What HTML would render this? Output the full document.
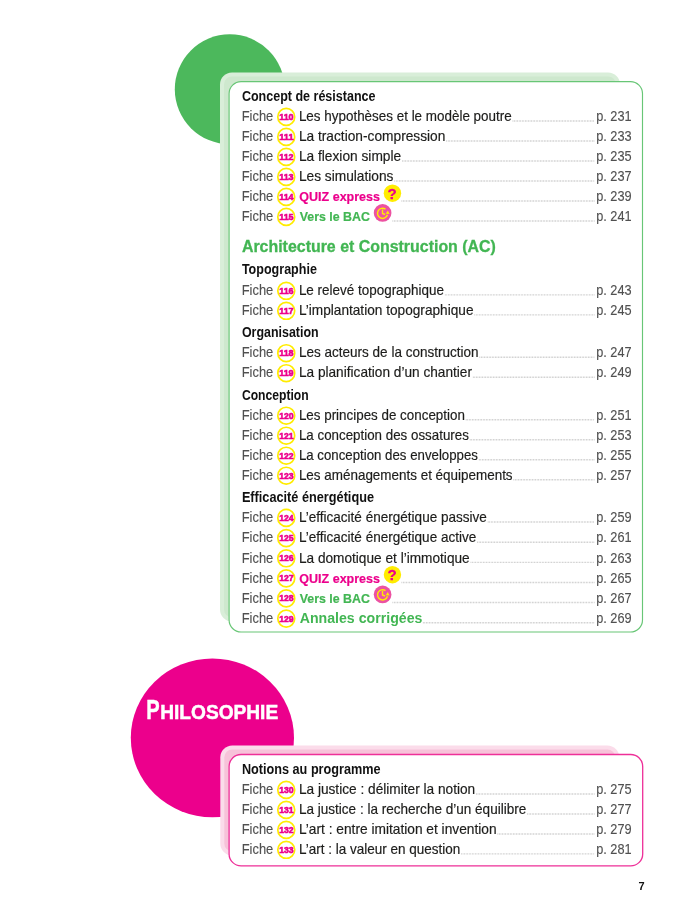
<!DOCTYPE html>
<html lang="fr"><head><meta charset="utf-8"><title>Sommaire</title>
<style>
html,body{margin:0;padding:0;background:#fff}
body{width:700px;height:919px;overflow:hidden}
svg{display:block;font-family:"Liberation Sans",sans-serif}
</style></head><body>
<svg width="700" height="919" viewBox="0 0 700 919">
<rect width="700" height="919" fill="#fff"/>
<circle cx="229.8" cy="89.3" r="55" fill="#4cb85c"/>
<rect x="220" y="72.4" width="400" height="549" rx="12" ry="12" fill="#d9eed9"/>
<rect x="224" y="76.4" width="392" height="541" rx="8" ry="8" fill="#cee8ce"/>
<rect x="229.1" y="81.6" width="413.4" height="550.4" rx="12" ry="12" fill="#fff" stroke="#68c676" stroke-width="1.15"/>
<ellipse cx="212.4" cy="737.85" rx="81.6" ry="79.35" fill="#ec008c"/>
<text y="719.3" fill="#fff" stroke="#fff" stroke-width="0.5" font-weight="bold"><tspan x="146.2" font-size="28.5" textLength="13.4" lengthAdjust="spacingAndGlyphs">P</tspan><tspan x="160.2" font-size="21" textLength="118" lengthAdjust="spacingAndGlyphs">HILOSOPHIE</tspan></text>
<rect x="220.3" y="745.4" width="399" height="110" rx="12" ry="12" fill="#fbdcea"/>
<rect x="224.3" y="749.4" width="391" height="102" rx="8" ry="8" fill="#f7c2d9"/>
<rect x="229.1" y="754.5" width="413.6" height="111.4" rx="12" ry="12" fill="#fff" stroke="#ee2f98" stroke-width="1.3"/>
<text x="241.9" y="101.1" font-size="14.3" fill="#111" font-weight="bold" textLength="133.6" lengthAdjust="spacingAndGlyphs">Concept de résistance</text>
<text x="241.7" y="121.1" font-size="14.3" fill="#505050" textLength="31.6" lengthAdjust="spacingAndGlyphs" stroke="#505050" stroke-width="0.12">Fiche</text>
<circle cx="286.25" cy="116.9" r="8.45" fill="#fff" stroke="#ffec00" stroke-width="1.7"/>
<text x="286.4" y="119.8" font-size="9.9" fill="#ec008c" font-weight="bold" text-anchor="middle" textLength="14.4" lengthAdjust="spacingAndGlyphs" stroke="#ec008c" stroke-width="0.6">110</text>
<text x="298.9" y="121.1" font-size="14.3" fill="#1d1d1b" textLength="212.8" lengthAdjust="spacingAndGlyphs" stroke="#1d1d1b" stroke-width="0.18">Les hypothèses et le modèle poutre</text>
<line x1="512.6" y1="121.0" x2="594.5" y2="121.0" stroke="#c4c4c4" stroke-width="1.4" stroke-dasharray="0.75 0.8"/>
<text x="596.2" y="121.1" font-size="14.3" fill="#505050" textLength="35.4" lengthAdjust="spacingAndGlyphs" stroke="#505050" stroke-width="0.12">p. 231</text>
<text x="241.7" y="141.1" font-size="14.3" fill="#505050" textLength="31.6" lengthAdjust="spacingAndGlyphs" stroke="#505050" stroke-width="0.12">Fiche</text>
<circle cx="286.25" cy="136.9" r="8.45" fill="#fff" stroke="#ffec00" stroke-width="1.7"/>
<text x="286.4" y="139.8" font-size="9.9" fill="#ec008c" font-weight="bold" text-anchor="middle" textLength="14.4" lengthAdjust="spacingAndGlyphs" stroke="#ec008c" stroke-width="0.6">111</text>
<text x="298.9" y="141.1" font-size="14.3" fill="#1d1d1b" textLength="146.5" lengthAdjust="spacingAndGlyphs" stroke="#1d1d1b" stroke-width="0.18">La traction-compression</text>
<line x1="446.3" y1="141.0" x2="594.5" y2="141.0" stroke="#c4c4c4" stroke-width="1.4" stroke-dasharray="0.75 0.8"/>
<text x="596.2" y="141.1" font-size="14.3" fill="#505050" textLength="35.4" lengthAdjust="spacingAndGlyphs" stroke="#505050" stroke-width="0.12">p. 233</text>
<text x="241.7" y="161.1" font-size="14.3" fill="#505050" textLength="31.6" lengthAdjust="spacingAndGlyphs" stroke="#505050" stroke-width="0.12">Fiche</text>
<circle cx="286.25" cy="156.9" r="8.45" fill="#fff" stroke="#ffec00" stroke-width="1.7"/>
<text x="286.4" y="159.8" font-size="9.9" fill="#ec008c" font-weight="bold" text-anchor="middle" textLength="14.4" lengthAdjust="spacingAndGlyphs" stroke="#ec008c" stroke-width="0.6">112</text>
<text x="298.9" y="161.1" font-size="14.3" fill="#1d1d1b" textLength="102.3" lengthAdjust="spacingAndGlyphs" stroke="#1d1d1b" stroke-width="0.18">La flexion simple</text>
<line x1="402.1" y1="161.0" x2="594.5" y2="161.0" stroke="#c4c4c4" stroke-width="1.4" stroke-dasharray="0.75 0.8"/>
<text x="596.2" y="161.1" font-size="14.3" fill="#505050" textLength="35.4" lengthAdjust="spacingAndGlyphs" stroke="#505050" stroke-width="0.12">p. 235</text>
<text x="241.7" y="181.1" font-size="14.3" fill="#505050" textLength="31.6" lengthAdjust="spacingAndGlyphs" stroke="#505050" stroke-width="0.12">Fiche</text>
<circle cx="286.25" cy="176.9" r="8.45" fill="#fff" stroke="#ffec00" stroke-width="1.7"/>
<text x="286.4" y="179.8" font-size="9.9" fill="#ec008c" font-weight="bold" text-anchor="middle" textLength="14.4" lengthAdjust="spacingAndGlyphs" stroke="#ec008c" stroke-width="0.6">113</text>
<text x="298.9" y="181.1" font-size="14.3" fill="#1d1d1b" textLength="94.6" lengthAdjust="spacingAndGlyphs" stroke="#1d1d1b" stroke-width="0.18">Les simulations</text>
<line x1="394.4" y1="181.0" x2="594.5" y2="181.0" stroke="#c4c4c4" stroke-width="1.4" stroke-dasharray="0.75 0.8"/>
<text x="596.2" y="181.1" font-size="14.3" fill="#505050" textLength="35.4" lengthAdjust="spacingAndGlyphs" stroke="#505050" stroke-width="0.12">p. 237</text>
<text x="241.7" y="201.1" font-size="14.3" fill="#505050" textLength="31.6" lengthAdjust="spacingAndGlyphs" stroke="#505050" stroke-width="0.12">Fiche</text>
<circle cx="286.25" cy="196.9" r="8.45" fill="#fff" stroke="#ffec00" stroke-width="1.7"/>
<text x="286.4" y="199.8" font-size="9.9" fill="#ec008c" font-weight="bold" text-anchor="middle" textLength="14.4" lengthAdjust="spacingAndGlyphs" stroke="#ec008c" stroke-width="0.6">114</text>
<text x="299.3" y="201.2" font-size="13.4" fill="#ec008c" font-weight="bold" textLength="80.7" lengthAdjust="spacingAndGlyphs" stroke="#ec008c" stroke-width="0.2">QUIZ express</text>
<circle cx="392.45" cy="193.20" r="8.7" fill="#ffec00"/>
<text x="392.1" y="198.6" font-size="15.2" fill="#ec008c" font-weight="bold" text-anchor="middle" stroke="#ec008c" stroke-width="0.3">?</text>
<line x1="401.5" y1="201.0" x2="594.5" y2="201.0" stroke="#c4c4c4" stroke-width="1.4" stroke-dasharray="0.75 0.8"/>
<text x="596.2" y="201.1" font-size="14.3" fill="#505050" textLength="35.4" lengthAdjust="spacingAndGlyphs" stroke="#505050" stroke-width="0.12">p. 239</text>
<text x="241.7" y="221.1" font-size="14.3" fill="#505050" textLength="31.6" lengthAdjust="spacingAndGlyphs" stroke="#505050" stroke-width="0.12">Fiche</text>
<circle cx="286.25" cy="216.9" r="8.45" fill="#fff" stroke="#ffec00" stroke-width="1.7"/>
<text x="286.4" y="219.8" font-size="9.9" fill="#ec008c" font-weight="bold" text-anchor="middle" textLength="14.4" lengthAdjust="spacingAndGlyphs" stroke="#ec008c" stroke-width="0.6">115</text>
<text x="299.7" y="221.2" font-size="13.4" fill="#42b653" font-weight="bold" textLength="70.3" lengthAdjust="spacingAndGlyphs" stroke="#42b653" stroke-width="0.2">Vers le BAC</text>
<g transform="translate(382.60,212.90)"><circle r="8.85" fill="#ec52a2"/><path d="M2.9,-3.8 A5.1,5.1 0 1 0 4.9,1.9" fill="none" stroke="#ffec00" stroke-width="1.4"/><path d="M-0.1,-3.5 V0.6 L2.5,1.6" fill="none" stroke="#ffec00" stroke-width="1.4" stroke-linejoin="round"/><path d="M3.1,0.9 L7.0,1.1 L5.2,-2.4 Z" fill="#ffec00"/></g>
<line x1="392.5" y1="221.0" x2="594.5" y2="221.0" stroke="#c4c4c4" stroke-width="1.4" stroke-dasharray="0.75 0.8"/>
<text x="596.2" y="221.1" font-size="14.3" fill="#505050" textLength="35.4" lengthAdjust="spacingAndGlyphs" stroke="#505050" stroke-width="0.12">p. 241</text>
<text x="241.9" y="252.1" font-size="16.2" fill="#42b653" font-weight="bold" textLength="254.0" lengthAdjust="spacingAndGlyphs" stroke="#42b653" stroke-width="0.3">Architecture et Construction (AC)</text>
<text x="241.9" y="274.3" font-size="14.3" fill="#111" font-weight="bold" textLength="75.0" lengthAdjust="spacingAndGlyphs">Topographie</text>
<text x="241.7" y="295.0" font-size="14.3" fill="#505050" textLength="31.6" lengthAdjust="spacingAndGlyphs" stroke="#505050" stroke-width="0.12">Fiche</text>
<circle cx="286.25" cy="290.8" r="8.45" fill="#fff" stroke="#ffec00" stroke-width="1.7"/>
<text x="286.4" y="293.7" font-size="9.9" fill="#ec008c" font-weight="bold" text-anchor="middle" textLength="14.4" lengthAdjust="spacingAndGlyphs" stroke="#ec008c" stroke-width="0.6">116</text>
<text x="298.9" y="295.0" font-size="14.3" fill="#1d1d1b" textLength="145.1" lengthAdjust="spacingAndGlyphs" stroke="#1d1d1b" stroke-width="0.18">Le relevé topographique</text>
<line x1="444.9" y1="294.9" x2="594.5" y2="294.9" stroke="#c4c4c4" stroke-width="1.4" stroke-dasharray="0.75 0.8"/>
<text x="596.2" y="295.0" font-size="14.3" fill="#505050" textLength="35.4" lengthAdjust="spacingAndGlyphs" stroke="#505050" stroke-width="0.12">p. 243</text>
<text x="241.7" y="315.0" font-size="14.3" fill="#505050" textLength="31.6" lengthAdjust="spacingAndGlyphs" stroke="#505050" stroke-width="0.12">Fiche</text>
<circle cx="286.25" cy="310.8" r="8.45" fill="#fff" stroke="#ffec00" stroke-width="1.7"/>
<text x="286.4" y="313.7" font-size="9.9" fill="#ec008c" font-weight="bold" text-anchor="middle" textLength="14.4" lengthAdjust="spacingAndGlyphs" stroke="#ec008c" stroke-width="0.6">117</text>
<text x="298.9" y="315.0" font-size="14.3" fill="#1d1d1b" textLength="174.6" lengthAdjust="spacingAndGlyphs" stroke="#1d1d1b" stroke-width="0.18">L’implantation topographique</text>
<line x1="474.4" y1="314.9" x2="594.5" y2="314.9" stroke="#c4c4c4" stroke-width="1.4" stroke-dasharray="0.75 0.8"/>
<text x="596.2" y="315.0" font-size="14.3" fill="#505050" textLength="35.4" lengthAdjust="spacingAndGlyphs" stroke="#505050" stroke-width="0.12">p. 245</text>
<text x="241.9" y="337.2" font-size="14.3" fill="#111" font-weight="bold" textLength="76.7" lengthAdjust="spacingAndGlyphs">Organisation</text>
<text x="241.7" y="357.4" font-size="14.3" fill="#505050" textLength="31.6" lengthAdjust="spacingAndGlyphs" stroke="#505050" stroke-width="0.12">Fiche</text>
<circle cx="286.25" cy="353.2" r="8.45" fill="#fff" stroke="#ffec00" stroke-width="1.7"/>
<text x="286.4" y="356.1" font-size="9.9" fill="#ec008c" font-weight="bold" text-anchor="middle" textLength="14.4" lengthAdjust="spacingAndGlyphs" stroke="#ec008c" stroke-width="0.6">118</text>
<text x="298.9" y="357.4" font-size="14.3" fill="#1d1d1b" textLength="179.7" lengthAdjust="spacingAndGlyphs" stroke="#1d1d1b" stroke-width="0.18">Les acteurs de la construction</text>
<line x1="479.5" y1="357.3" x2="594.5" y2="357.3" stroke="#c4c4c4" stroke-width="1.4" stroke-dasharray="0.75 0.8"/>
<text x="596.2" y="357.4" font-size="14.3" fill="#505050" textLength="35.4" lengthAdjust="spacingAndGlyphs" stroke="#505050" stroke-width="0.12">p. 247</text>
<text x="241.7" y="377.4" font-size="14.3" fill="#505050" textLength="31.6" lengthAdjust="spacingAndGlyphs" stroke="#505050" stroke-width="0.12">Fiche</text>
<circle cx="286.25" cy="373.2" r="8.45" fill="#fff" stroke="#ffec00" stroke-width="1.7"/>
<text x="286.4" y="376.1" font-size="9.9" fill="#ec008c" font-weight="bold" text-anchor="middle" textLength="14.4" lengthAdjust="spacingAndGlyphs" stroke="#ec008c" stroke-width="0.6">119</text>
<text x="298.9" y="377.4" font-size="14.3" fill="#1d1d1b" textLength="173.1" lengthAdjust="spacingAndGlyphs" stroke="#1d1d1b" stroke-width="0.18">La planification d’un chantier</text>
<line x1="472.9" y1="377.3" x2="594.5" y2="377.3" stroke="#c4c4c4" stroke-width="1.4" stroke-dasharray="0.75 0.8"/>
<text x="596.2" y="377.4" font-size="14.3" fill="#505050" textLength="35.4" lengthAdjust="spacingAndGlyphs" stroke="#505050" stroke-width="0.12">p. 249</text>
<text x="241.9" y="399.7" font-size="14.3" fill="#111" font-weight="bold" textLength="66.8" lengthAdjust="spacingAndGlyphs">Conception</text>
<text x="241.7" y="419.9" font-size="14.3" fill="#505050" textLength="31.6" lengthAdjust="spacingAndGlyphs" stroke="#505050" stroke-width="0.12">Fiche</text>
<circle cx="286.25" cy="415.7" r="8.45" fill="#fff" stroke="#ffec00" stroke-width="1.7"/>
<text x="286.4" y="418.6" font-size="9.9" fill="#ec008c" font-weight="bold" text-anchor="middle" textLength="14.4" lengthAdjust="spacingAndGlyphs" stroke="#ec008c" stroke-width="0.6">120</text>
<text x="298.9" y="419.9" font-size="14.3" fill="#1d1d1b" textLength="166.0" lengthAdjust="spacingAndGlyphs" stroke="#1d1d1b" stroke-width="0.18">Les principes de conception</text>
<line x1="465.8" y1="419.8" x2="594.5" y2="419.8" stroke="#c4c4c4" stroke-width="1.4" stroke-dasharray="0.75 0.8"/>
<text x="596.2" y="419.9" font-size="14.3" fill="#505050" textLength="35.4" lengthAdjust="spacingAndGlyphs" stroke="#505050" stroke-width="0.12">p. 251</text>
<text x="241.7" y="439.9" font-size="14.3" fill="#505050" textLength="31.6" lengthAdjust="spacingAndGlyphs" stroke="#505050" stroke-width="0.12">Fiche</text>
<circle cx="286.25" cy="435.7" r="8.45" fill="#fff" stroke="#ffec00" stroke-width="1.7"/>
<text x="286.4" y="438.6" font-size="9.9" fill="#ec008c" font-weight="bold" text-anchor="middle" textLength="14.4" lengthAdjust="spacingAndGlyphs" stroke="#ec008c" stroke-width="0.6">121</text>
<text x="298.9" y="439.9" font-size="14.3" fill="#1d1d1b" textLength="170.0" lengthAdjust="spacingAndGlyphs" stroke="#1d1d1b" stroke-width="0.18">La conception des ossatures</text>
<line x1="469.8" y1="439.8" x2="594.5" y2="439.8" stroke="#c4c4c4" stroke-width="1.4" stroke-dasharray="0.75 0.8"/>
<text x="596.2" y="439.9" font-size="14.3" fill="#505050" textLength="35.4" lengthAdjust="spacingAndGlyphs" stroke="#505050" stroke-width="0.12">p. 253</text>
<text x="241.7" y="459.9" font-size="14.3" fill="#505050" textLength="31.6" lengthAdjust="spacingAndGlyphs" stroke="#505050" stroke-width="0.12">Fiche</text>
<circle cx="286.25" cy="455.7" r="8.45" fill="#fff" stroke="#ffec00" stroke-width="1.7"/>
<text x="286.4" y="458.6" font-size="9.9" fill="#ec008c" font-weight="bold" text-anchor="middle" textLength="14.4" lengthAdjust="spacingAndGlyphs" stroke="#ec008c" stroke-width="0.6">122</text>
<text x="298.9" y="459.9" font-size="14.3" fill="#1d1d1b" textLength="179.1" lengthAdjust="spacingAndGlyphs" stroke="#1d1d1b" stroke-width="0.18">La conception des enveloppes</text>
<line x1="478.9" y1="459.8" x2="594.5" y2="459.8" stroke="#c4c4c4" stroke-width="1.4" stroke-dasharray="0.75 0.8"/>
<text x="596.2" y="459.9" font-size="14.3" fill="#505050" textLength="35.4" lengthAdjust="spacingAndGlyphs" stroke="#505050" stroke-width="0.12">p. 255</text>
<text x="241.7" y="479.9" font-size="14.3" fill="#505050" textLength="31.6" lengthAdjust="spacingAndGlyphs" stroke="#505050" stroke-width="0.12">Fiche</text>
<circle cx="286.25" cy="475.7" r="8.45" fill="#fff" stroke="#ffec00" stroke-width="1.7"/>
<text x="286.4" y="478.6" font-size="9.9" fill="#ec008c" font-weight="bold" text-anchor="middle" textLength="14.4" lengthAdjust="spacingAndGlyphs" stroke="#ec008c" stroke-width="0.6">123</text>
<text x="298.9" y="479.9" font-size="14.3" fill="#1d1d1b" textLength="213.7" lengthAdjust="spacingAndGlyphs" stroke="#1d1d1b" stroke-width="0.18">Les aménagements et équipements</text>
<line x1="513.5" y1="479.8" x2="594.5" y2="479.8" stroke="#c4c4c4" stroke-width="1.4" stroke-dasharray="0.75 0.8"/>
<text x="596.2" y="479.9" font-size="14.3" fill="#505050" textLength="35.4" lengthAdjust="spacingAndGlyphs" stroke="#505050" stroke-width="0.12">p. 257</text>
<text x="241.9" y="501.8" font-size="14.3" fill="#111" font-weight="bold" textLength="132.1" lengthAdjust="spacingAndGlyphs">Efficacité énergétique</text>
<text x="241.7" y="522.1" font-size="14.3" fill="#505050" textLength="31.6" lengthAdjust="spacingAndGlyphs" stroke="#505050" stroke-width="0.12">Fiche</text>
<circle cx="286.25" cy="517.9" r="8.45" fill="#fff" stroke="#ffec00" stroke-width="1.7"/>
<text x="286.4" y="520.8" font-size="9.9" fill="#ec008c" font-weight="bold" text-anchor="middle" textLength="14.4" lengthAdjust="spacingAndGlyphs" stroke="#ec008c" stroke-width="0.6">124</text>
<text x="298.9" y="522.1" font-size="14.3" fill="#1d1d1b" textLength="188.0" lengthAdjust="spacingAndGlyphs" stroke="#1d1d1b" stroke-width="0.18">L’efficacité énergétique passive</text>
<line x1="487.8" y1="522.0" x2="594.5" y2="522.0" stroke="#c4c4c4" stroke-width="1.4" stroke-dasharray="0.75 0.8"/>
<text x="596.2" y="522.1" font-size="14.3" fill="#505050" textLength="35.4" lengthAdjust="spacingAndGlyphs" stroke="#505050" stroke-width="0.12">p. 259</text>
<text x="241.7" y="542.3" font-size="14.3" fill="#505050" textLength="31.6" lengthAdjust="spacingAndGlyphs" stroke="#505050" stroke-width="0.12">Fiche</text>
<circle cx="286.25" cy="538.1" r="8.45" fill="#fff" stroke="#ffec00" stroke-width="1.7"/>
<text x="286.4" y="541.0" font-size="9.9" fill="#ec008c" font-weight="bold" text-anchor="middle" textLength="14.4" lengthAdjust="spacingAndGlyphs" stroke="#ec008c" stroke-width="0.6">125</text>
<text x="298.9" y="542.3" font-size="14.3" fill="#1d1d1b" textLength="177.4" lengthAdjust="spacingAndGlyphs" stroke="#1d1d1b" stroke-width="0.18">L’efficacité énergétique active</text>
<line x1="477.2" y1="542.2" x2="594.5" y2="542.2" stroke="#c4c4c4" stroke-width="1.4" stroke-dasharray="0.75 0.8"/>
<text x="596.2" y="542.3" font-size="14.3" fill="#505050" textLength="35.4" lengthAdjust="spacingAndGlyphs" stroke="#505050" stroke-width="0.12">p. 261</text>
<text x="241.7" y="562.5" font-size="14.3" fill="#505050" textLength="31.6" lengthAdjust="spacingAndGlyphs" stroke="#505050" stroke-width="0.12">Fiche</text>
<circle cx="286.25" cy="558.3" r="8.45" fill="#fff" stroke="#ffec00" stroke-width="1.7"/>
<text x="286.4" y="561.2" font-size="9.9" fill="#ec008c" font-weight="bold" text-anchor="middle" textLength="14.4" lengthAdjust="spacingAndGlyphs" stroke="#ec008c" stroke-width="0.6">126</text>
<text x="298.9" y="562.5" font-size="14.3" fill="#1d1d1b" textLength="170.8" lengthAdjust="spacingAndGlyphs" stroke="#1d1d1b" stroke-width="0.18">La domotique et l’immotique</text>
<line x1="470.6" y1="562.4" x2="594.5" y2="562.4" stroke="#c4c4c4" stroke-width="1.4" stroke-dasharray="0.75 0.8"/>
<text x="596.2" y="562.5" font-size="14.3" fill="#505050" textLength="35.4" lengthAdjust="spacingAndGlyphs" stroke="#505050" stroke-width="0.12">p. 263</text>
<text x="241.7" y="582.6" font-size="14.3" fill="#505050" textLength="31.6" lengthAdjust="spacingAndGlyphs" stroke="#505050" stroke-width="0.12">Fiche</text>
<circle cx="286.25" cy="578.4" r="8.45" fill="#fff" stroke="#ffec00" stroke-width="1.7"/>
<text x="286.4" y="581.3" font-size="9.9" fill="#ec008c" font-weight="bold" text-anchor="middle" textLength="14.4" lengthAdjust="spacingAndGlyphs" stroke="#ec008c" stroke-width="0.6">127</text>
<text x="299.3" y="582.7" font-size="13.4" fill="#ec008c" font-weight="bold" textLength="80.7" lengthAdjust="spacingAndGlyphs" stroke="#ec008c" stroke-width="0.2">QUIZ express</text>
<circle cx="392.45" cy="574.70" r="8.7" fill="#ffec00"/>
<text x="392.1" y="580.1" font-size="15.2" fill="#ec008c" font-weight="bold" text-anchor="middle" stroke="#ec008c" stroke-width="0.3">?</text>
<line x1="401.5" y1="582.5" x2="594.5" y2="582.5" stroke="#c4c4c4" stroke-width="1.4" stroke-dasharray="0.75 0.8"/>
<text x="596.2" y="582.6" font-size="14.3" fill="#505050" textLength="35.4" lengthAdjust="spacingAndGlyphs" stroke="#505050" stroke-width="0.12">p. 265</text>
<text x="241.7" y="602.6" font-size="14.3" fill="#505050" textLength="31.6" lengthAdjust="spacingAndGlyphs" stroke="#505050" stroke-width="0.12">Fiche</text>
<circle cx="286.25" cy="598.4" r="8.45" fill="#fff" stroke="#ffec00" stroke-width="1.7"/>
<text x="286.4" y="601.3" font-size="9.9" fill="#ec008c" font-weight="bold" text-anchor="middle" textLength="14.4" lengthAdjust="spacingAndGlyphs" stroke="#ec008c" stroke-width="0.6">128</text>
<text x="299.7" y="602.7" font-size="13.4" fill="#42b653" font-weight="bold" textLength="70.3" lengthAdjust="spacingAndGlyphs" stroke="#42b653" stroke-width="0.2">Vers le BAC</text>
<g transform="translate(382.60,594.40)"><circle r="8.85" fill="#ec52a2"/><path d="M2.9,-3.8 A5.1,5.1 0 1 0 4.9,1.9" fill="none" stroke="#ffec00" stroke-width="1.4"/><path d="M-0.1,-3.5 V0.6 L2.5,1.6" fill="none" stroke="#ffec00" stroke-width="1.4" stroke-linejoin="round"/><path d="M3.1,0.9 L7.0,1.1 L5.2,-2.4 Z" fill="#ffec00"/></g>
<line x1="392.5" y1="602.5" x2="594.5" y2="602.5" stroke="#c4c4c4" stroke-width="1.4" stroke-dasharray="0.75 0.8"/>
<text x="596.2" y="602.6" font-size="14.3" fill="#505050" textLength="35.4" lengthAdjust="spacingAndGlyphs" stroke="#505050" stroke-width="0.12">p. 267</text>
<text x="241.7" y="622.8" font-size="14.3" fill="#505050" textLength="31.6" lengthAdjust="spacingAndGlyphs" stroke="#505050" stroke-width="0.12">Fiche</text>
<circle cx="286.25" cy="618.6" r="8.45" fill="#fff" stroke="#ffec00" stroke-width="1.7"/>
<text x="286.4" y="621.5" font-size="9.9" fill="#ec008c" font-weight="bold" text-anchor="middle" textLength="14.4" lengthAdjust="spacingAndGlyphs" stroke="#ec008c" stroke-width="0.6">129</text>
<text x="299.7" y="622.8" font-size="15.3" fill="#42b653" font-weight="bold" textLength="122.7" lengthAdjust="spacingAndGlyphs">Annales corrigées</text>
<line x1="422.9" y1="622.7" x2="594.5" y2="622.7" stroke="#c4c4c4" stroke-width="1.4" stroke-dasharray="0.75 0.8"/>
<text x="596.2" y="622.8" font-size="14.3" fill="#505050" textLength="35.4" lengthAdjust="spacingAndGlyphs" stroke="#505050" stroke-width="0.12">p. 269</text>
<text x="241.9" y="774.1" font-size="14.3" fill="#111" font-weight="bold" textLength="138.7" lengthAdjust="spacingAndGlyphs">Notions au programme</text>
<text x="241.7" y="794.1" font-size="14.3" fill="#505050" textLength="31.6" lengthAdjust="spacingAndGlyphs" stroke="#505050" stroke-width="0.12">Fiche</text>
<circle cx="286.25" cy="789.9" r="8.45" fill="#fff" stroke="#ffec00" stroke-width="1.7"/>
<text x="286.4" y="792.8" font-size="9.9" fill="#ec008c" font-weight="bold" text-anchor="middle" textLength="14.4" lengthAdjust="spacingAndGlyphs" stroke="#ec008c" stroke-width="0.6">130</text>
<text x="298.9" y="794.1" font-size="14.3" fill="#1d1d1b" textLength="176.3" lengthAdjust="spacingAndGlyphs" stroke="#1d1d1b" stroke-width="0.18">La justice : délimiter la notion</text>
<line x1="476.1" y1="794.0" x2="594.5" y2="794.0" stroke="#c4c4c4" stroke-width="1.4" stroke-dasharray="0.75 0.8"/>
<text x="596.2" y="794.1" font-size="14.3" fill="#505050" textLength="35.4" lengthAdjust="spacingAndGlyphs" stroke="#505050" stroke-width="0.12">p. 275</text>
<text x="241.7" y="814.1" font-size="14.3" fill="#505050" textLength="31.6" lengthAdjust="spacingAndGlyphs" stroke="#505050" stroke-width="0.12">Fiche</text>
<circle cx="286.25" cy="809.9" r="8.45" fill="#fff" stroke="#ffec00" stroke-width="1.7"/>
<text x="286.4" y="812.8" font-size="9.9" fill="#ec008c" font-weight="bold" text-anchor="middle" textLength="14.4" lengthAdjust="spacingAndGlyphs" stroke="#ec008c" stroke-width="0.6">131</text>
<text x="298.9" y="814.1" font-size="14.3" fill="#1d1d1b" textLength="227.4" lengthAdjust="spacingAndGlyphs" stroke="#1d1d1b" stroke-width="0.18">La justice : la recherche d’un équilibre</text>
<line x1="527.2" y1="814.0" x2="594.5" y2="814.0" stroke="#c4c4c4" stroke-width="1.4" stroke-dasharray="0.75 0.8"/>
<text x="596.2" y="814.1" font-size="14.3" fill="#505050" textLength="35.4" lengthAdjust="spacingAndGlyphs" stroke="#505050" stroke-width="0.12">p. 277</text>
<text x="241.7" y="834.1" font-size="14.3" fill="#505050" textLength="31.6" lengthAdjust="spacingAndGlyphs" stroke="#505050" stroke-width="0.12">Fiche</text>
<circle cx="286.25" cy="829.9" r="8.45" fill="#fff" stroke="#ffec00" stroke-width="1.7"/>
<text x="286.4" y="832.8" font-size="9.9" fill="#ec008c" font-weight="bold" text-anchor="middle" textLength="14.4" lengthAdjust="spacingAndGlyphs" stroke="#ec008c" stroke-width="0.6">132</text>
<text x="298.9" y="834.1" font-size="14.3" fill="#1d1d1b" textLength="197.7" lengthAdjust="spacingAndGlyphs" stroke="#1d1d1b" stroke-width="0.18">L’art : entre imitation et invention</text>
<line x1="497.5" y1="834.0" x2="594.5" y2="834.0" stroke="#c4c4c4" stroke-width="1.4" stroke-dasharray="0.75 0.8"/>
<text x="596.2" y="834.1" font-size="14.3" fill="#505050" textLength="35.4" lengthAdjust="spacingAndGlyphs" stroke="#505050" stroke-width="0.12">p. 279</text>
<text x="241.7" y="854.0" font-size="14.3" fill="#505050" textLength="31.6" lengthAdjust="spacingAndGlyphs" stroke="#505050" stroke-width="0.12">Fiche</text>
<circle cx="286.25" cy="849.8" r="8.45" fill="#fff" stroke="#ffec00" stroke-width="1.7"/>
<text x="286.4" y="852.7" font-size="9.9" fill="#ec008c" font-weight="bold" text-anchor="middle" textLength="14.4" lengthAdjust="spacingAndGlyphs" stroke="#ec008c" stroke-width="0.6">133</text>
<text x="298.9" y="854.0" font-size="14.3" fill="#1d1d1b" textLength="161.3" lengthAdjust="spacingAndGlyphs" stroke="#1d1d1b" stroke-width="0.18">L’art : la valeur en question</text>
<line x1="461.1" y1="853.9" x2="594.5" y2="853.9" stroke="#c4c4c4" stroke-width="1.4" stroke-dasharray="0.75 0.8"/>
<text x="596.2" y="854.0" font-size="14.3" fill="#505050" textLength="35.4" lengthAdjust="spacingAndGlyphs" stroke="#505050" stroke-width="0.12">p. 281</text>
<text x="638.6" y="890" font-size="11" font-weight="bold" fill="#111">7</text>
</svg>
</body></html>
